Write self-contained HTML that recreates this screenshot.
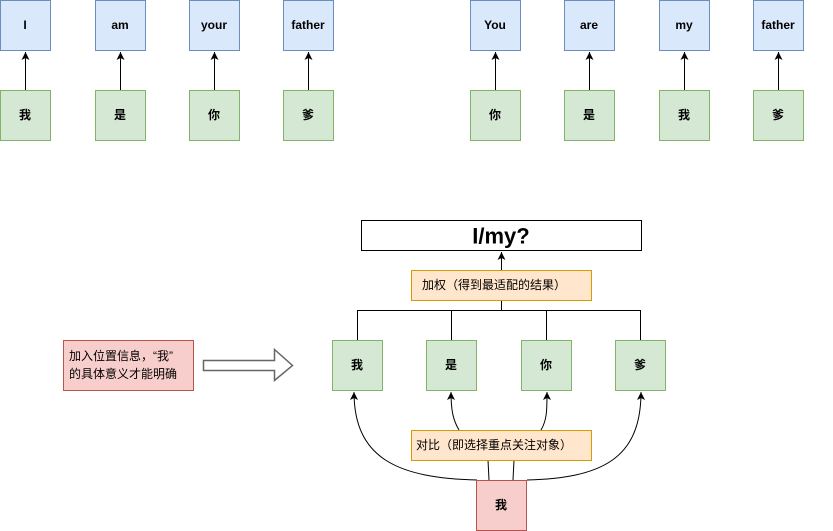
<!DOCTYPE html>
<html><head><meta charset="utf-8"><style>
html,body{margin:0;padding:0;background:#fff;}
svg{display:block;}
text{font-family:"Liberation Sans","Noto Sans CJK SC",sans-serif;font-size:12px;font-weight:bold;fill:#000;text-anchor:middle;dominant-baseline:central;}
</style></head><body>
<svg width="833" height="531" viewBox="0 0 833 531" xmlns="http://www.w3.org/2000/svg">
<defs><marker id="a" markerWidth="10" markerHeight="10" refX="8" refY="4" orient="auto" markerUnits="userSpaceOnUse"><path d="M0,0 L8,4 L0,8 L2,4 Z" fill="#000"/></marker></defs>
<g stroke-width="1">
<g fill="#dae8fc" stroke="#6c8ebf">
<rect x="0.5" y="0.5" width="50" height="50"/><rect x="95.5" y="0.5" width="50" height="50"/><rect x="189.5" y="0.5" width="50" height="50"/><rect x="283.5" y="0.5" width="50" height="50"/>
<rect x="470.5" y="0.5" width="50" height="50"/><rect x="564.5" y="0.5" width="50" height="50"/><rect x="659.5" y="0.5" width="50" height="50"/><rect x="753.5" y="0.5" width="50" height="50"/>
</g>
<g fill="#d5e8d4" stroke="#82b366">
<rect x="0.5" y="90.5" width="50" height="50"/><rect x="95.5" y="90.5" width="50" height="50"/><rect x="189.5" y="90.5" width="50" height="50"/><rect x="283.5" y="90.5" width="50" height="50"/>
<rect x="470.5" y="90.5" width="50" height="50"/><rect x="564.5" y="90.5" width="50" height="50"/><rect x="659.5" y="90.5" width="50" height="50"/><rect x="753.5" y="90.5" width="50" height="50"/>
<rect x="332.5" y="340.5" width="50" height="50"/><rect x="426.5" y="340.5" width="50" height="50"/><rect x="521.5" y="340.5" width="50" height="50"/><rect x="615.5" y="340.5" width="50" height="50"/>
</g>
<g stroke="#000" fill="none">
<line x1="25.5" y1="90" x2="25.5" y2="52" marker-end="url(#a)"/>
<line x1="120.5" y1="90" x2="120.5" y2="52" marker-end="url(#a)"/>
<line x1="214.5" y1="90" x2="214.5" y2="52" marker-end="url(#a)"/>
<line x1="308.5" y1="90" x2="308.5" y2="52" marker-end="url(#a)"/>
<line x1="495.5" y1="90" x2="495.5" y2="52" marker-end="url(#a)"/>
<line x1="589.5" y1="90" x2="589.5" y2="52" marker-end="url(#a)"/>
<line x1="684.5" y1="90" x2="684.5" y2="52" marker-end="url(#a)"/>
<line x1="778.5" y1="90" x2="778.5" y2="52" marker-end="url(#a)"/>
<line x1="501.5" y1="270" x2="501.5" y2="252" marker-end="url(#a)"/>
<path d="M357.5,340 V310.5 H640.5 V340 M451.5,310.5 V340 M546.5,310.5 V340 M501.5,300 V310.5"/>
<path d="M477,480 C400,478 354,460 354,392" marker-end="url(#a)"/>
<path d="M527,480 C600,478 641,460 641,392" marker-end="url(#a)"/>
<path d="M459,430 C453,420 451,410 451,392" marker-end="url(#a)"/>
<path d="M541,430 C547,420 547,410 547,392" marker-end="url(#a)"/>
<path d="M488,460 L489,480 M514,460 L513,480"/>
</g>
<rect x="361.5" y="220.5" width="280" height="30" fill="#fff" stroke="#000"/>
<rect x="411.5" y="270.5" width="180" height="30" fill="#ffe6cc" stroke="#d79b00"/>
<rect x="411.5" y="430.5" width="180" height="30" fill="#ffe6cc" stroke="#d79b00"/>
<rect x="476.5" y="480.5" width="50" height="50" fill="#f8cecc" stroke="#b85450"/>
<rect x="63.5" y="340.5" width="130" height="50" fill="#f8cecc" stroke="#b85450"/>
<path d="M203.5,360.5 H274.5 V349.5 L292.5,365.5 L274.5,380.5 V370.5 H203.5 Z" fill="#fff" stroke="#666" stroke-width="1.5"/>
</g>
<text x="25" y="25">I</text><text x="120" y="25">am</text><text x="214" y="25">your</text><text x="308" y="25">father</text>
<text x="495" y="25">You</text><text x="589" y="25">are</text><text x="684" y="25">my</text><text x="778" y="25">father</text>
<text x="25" y="115">我</text><text x="120" y="115">是</text><text x="214" y="115">你</text><text x="308" y="115">爹</text>
<text x="495" y="115">你</text><text x="589" y="115">是</text><text x="684" y="115">我</text><text x="778" y="115">爹</text>
<text x="357" y="365">我</text><text x="451" y="365">是</text><text x="546" y="365">你</text><text x="640" y="365">爹</text>
<text x="501" y="505">我</text>
<text x="501" y="236" style="font-size:22px">I/my?</text>
<text x="422" y="285" style="text-anchor:start;font-weight:normal">加权（得到最适配的结果）</text>
<text x="416" y="445" style="text-anchor:start;font-weight:normal">对比（即选择重点关注对象）</text>
<text x="69" y="356" style="text-anchor:start;font-weight:normal">加入位置信息，“我”</text>
<text x="69" y="374" style="text-anchor:start;font-weight:normal">的具体意义才能明确</text>
</svg>
</body></html>
